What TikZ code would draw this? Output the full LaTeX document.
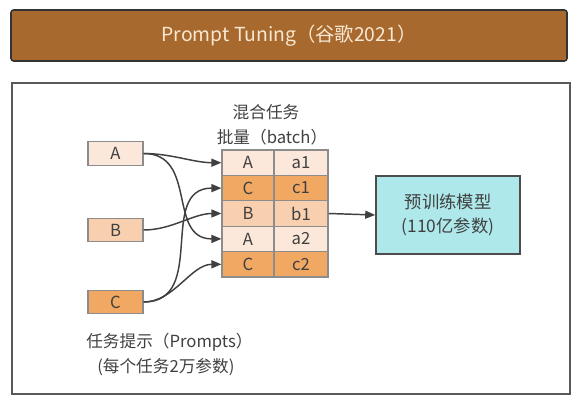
\documentclass[tikz,border=0pt]{standalone}
\usepackage{fontspec}
\setmainfont{Noto Sans CJK SC}
\usetikzlibrary{arrows.meta}
\definecolor{titlebg}{HTML}{A8692F}
\definecolor{titlefg}{HTML}{F8E8D2}
\definecolor{ink}{HTML}{404040}
\definecolor{pa}{HTML}{FCE8DA}
\definecolor{pb}{HTML}{F8CFAF}
\definecolor{pc}{HTML}{F0A862}
\definecolor{cy}{HTML}{AEE8EA}
\definecolor{bd}{HTML}{8C8C8C}
\begin{document}
\begin{tikzpicture}[x=0.75pt,y=-0.75pt,
  every node/.style={text=ink, font=\fontsize{12.5}{14}\selectfont, inner sep=0pt},
  prompt/.style={draw=bd, line width=0.9pt, minimum width=41.25pt, minimum height=17.5pt},
  cellL/.style={draw=bd, line width=0.9pt, minimum width=39pt, minimum height=19pt},
  cellR/.style={draw=bd, line width=0.9pt, minimum width=40.5pt, minimum height=19pt},
  conn/.style={draw=ink, line width=1.1pt, -{Triangle[length=7.5pt,width=6pt]}},
  label/.style={align=center}
]
\useasboundingbox (0,0) rectangle (579,400);
% title
\node[draw=black!80, line width=1.2pt, fill=titlebg, rounded corners=2pt,
  minimum width=417pt, minimum height=38.25pt, text=titlefg,
  font=\fontsize{14.5}{16}\selectfont] (title) at (289,35.5) {Prompt Tuning（谷歌2021）};
% frame
\draw[draw=black!65, line width=1.5pt] (12,83) rectangle (570,394);
% prompts
\node[prompt, fill=pa] (pA) at (115.5,153.5) {A};
\node[prompt, fill=pb] (pB) at (115.5,230) {B};
\node[prompt, fill=pc] (pC) at (115.5,302) {C};
% table
\node[cellL, fill=pa] (l1) at (248,162.7) {A};
\node[cellR, fill=pa] (r1) at (301,162.7) {a1};
\node[cellL, fill=pc] (l2) at (248,188.1) {C};
\node[cellR, fill=pc] (r2) at (301,188.1) {c1};
\node[cellL, fill=pb] (l3) at (248,213.5) {B};
\node[cellR, fill=pb] (r3) at (301,213.5) {b1};
\node[cellL, fill=pa] (l4) at (248,238.9) {A};
\node[cellR, fill=pa] (r4) at (301,238.9) {a2};
\node[cellL, fill=pc] (l5) at (248,264.3) {C};
\node[cellR, fill=pc] (r5) at (301,264.3) {c2};
% labels
\node[label] (mix) at (266,112) {混合任务};
\node[label] (batch) at (272,137) {批量（batch）};
\node[anchor=west] (plab) at (86,342) {任务提示（Prompts）};
\node[anchor=west] (plab2) at (97,367) {(每个任务2万参数)};
% model
\node[draw=black!70, line width=1.2pt, fill=cy, minimum width=108pt, minimum height=58.5pt,
  align=center, font=\fontsize{13}{18}\selectfont] (model) at (448,215) {预训练模型\\(110亿参数)};
% connectors
\draw[conn] (pA.east) to[out=0,in=180,looseness=0.9] (l1.west);
\draw[conn] (pA.east) to[out=0,in=180,looseness=1.2] (l4.west);
\draw[conn] (pB.east) to[out=0,in=180,looseness=0.9] (l3.west);
\draw[conn] (pC.east) to[out=0,in=180,looseness=1.2] (l2.west);
\draw[conn] (pC.east) to[out=0,in=180,looseness=0.9] (l5.west);
\draw[conn] (r3.east) -- (model.west);
\end{tikzpicture}
\end{document}
